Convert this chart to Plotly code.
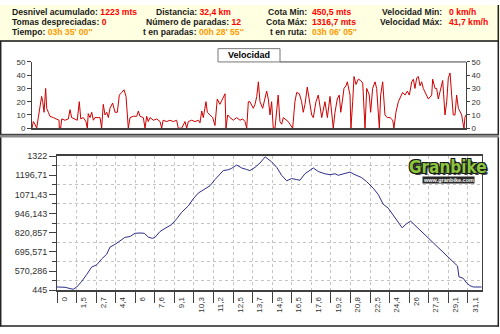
import plotly.graph_objects as go

# ---------------- data ----------------
# header statistics (label, value, colour-kind)
col1_labels = ["Desnivel acumulado:", "Tomas despreciadas:", "Tiempo:"]
col1_values = ["1223 mts", "0", "03h 35' 00''"]
col2_labels = ["Distancia:", "Número de paradas:", "t en paradas:"]
col2_values = ["32,4 km", "12", "00h 28' 55''"]
col3_labels = ["Cota Min:", "Cota Máx:", "t en ruta:"]
col3_values = ["450,5 mts", "1316,7 mts", "03h 06' 05''"]
col4_labels = ["Velocidad Min:", "Velocidad Máx:"]
col4_values = ["0 km/h", "41,7 km/h"]
time_rows = [2]  # rows whose values are times (orange)

# speed profile (km, km/h)
vel_km = [0.00, 0.10, 0.22, 0.35, 0.47, 0.60, 0.72, 0.80, 0.90, 1.02, 1.10, 1.22, 1.34, 1.59, 1.84,
          2.02, 2.04, 2.14, 2.22, 2.46, 2.71, 2.84, 2.96, 3.21, 3.38, 3.53, 3.64, 3.83, 4.03, 4.13,
          4.20, 4.33, 4.46, 4.58, 4.70, 4.95, 5.08, 5.20, 5.32, 5.45, 5.58, 5.70, 5.82, 6.02, 6.20,
          6.37, 6.52, 6.70, 6.87, 7.02, 7.19, 7.32, 7.56, 7.82, 7.94, 8.06, 8.31, 8.44, 8.56, 8.68,
          8.81, 9.06, 9.31, 9.56, 9.68, 9.79, 10.06, 10.30, 10.55, 10.80, 10.92, 11.18, 11.42, 11.55,
          11.67, 11.92, 12.17, 12.43, 12.54, 12.67, 12.79, 12.99, 13.09, 13.29, 13.49, 13.66, 13.83,
          14.03, 14.24, 14.41, 14.48, 14.61, 14.78, 15.03, 15.28, 15.53, 15.73, 15.90, 16.03, 16.15,
          16.27, 16.52, 16.65, 16.78, 16.90, 17.02, 17.22, 17.39, 17.52, 17.64, 17.77, 17.89, 18.01,
          18.14, 18.27, 18.38, 18.51, 18.64, 18.76, 19.01, 19.13, 19.26, 19.46, 19.63, 19.76, 19.96,
          20.13, 20.25, 20.38, 20.55, 20.70, 20.88, 21.00, 21.20, 21.37, 21.50, 21.63, 21.87, 22.05,
          22.25, 22.37, 22.49, 22.62, 22.79, 22.94, 23.05, 23.19, 23.29, 23.44, 23.54, 23.74, 23.81,
          23.94, 24.04, 24.19, 24.36, 24.54, 24.69, 24.86, 24.99, 25.18, 25.28, 25.43, 25.61, 25.73,
          25.93, 26.03, 26.18, 26.35, 26.52, 26.73, 26.93, 27.02, 27.17, 27.35, 27.47, 27.67, 27.85,
          28.02, 28.17, 28.35, 28.47, 28.59, 28.72, 28.84, 28.97, 29.09, 29.21, 29.41, 29.59, 29.84,
          29.91, 30.09, 30.21, 30.33, 30.51, 30.66, 30.83, 30.96, 31.08, 31.21, 31.33, 31.45, 31.58,
          31.70, 31.83, 31.95, 32.08, 32.15, 32.25, 32.32, 32.40]
vel_kmh = [0, 5, 3, 0, 8, 15, 24, 20, 12, 30, 15, 12, 9, 8, 7,
           6, 0, 0, 7, 6, 7, 14, 8, 7, 6, 20, 7, 8, 5, 0,
           11, 8, 12, 6, 8, 8, 8, 0, 18, 10, 12, 8, 15, 19, 12,
           12, 25, 27, 29, 24, 0, 8, 9, 9, 13, 9, 8, 0, 9, 5,
           8, 6, 7, 5, 0, 6, 5, 6, 5, 6, 0, 0, 5, 0,
           5, 6, 5, 6, 4, 13, 8, 20, 12, 10, 8, 2, 22,
           18, 22, 26, 0, 10, 8, 6, 8, 6, 7, 5, 0, 20,
           20, 15, 18, 24, 35, 20, 15, 22, 28, 22, 10, 20, 0,
           0, 15, 25, 5, 3, 8, 6, 5, 3, 0, 20, 27, 26,
           20, 12, 18, 31, 22, 10, 8, 20, 25, 18, 8, 20, 8,
           24, 12, 0, 12, 22, 25, 12, 22, 30, 32, 35, 25, 0,
           20, 39, 33, 37, 36, 34, 0, 30, 25, 12, 30, 35, 30,
           0, 25, 35, 10, 8, 8, 6, 0, 12, 20, 23, 27, 25,
           28, 25, 35, 37, 30, 38, 39, 32, 35, 30, 25, 22, 25,
           37, 30, 30, 22, 30, 36, 10, 20, 38, 41.7, 25, 10, 10,
           25, 15, 12, 10, 5, 0, 8, 10]

# altitude profile (sample position in tick units, metres)
elev_pos = [0, 0.41, 0.66, 0.83, 1.01, 1.26, 1.52, 1.77, 2.03, 2.28, 2.54, 2.71, 2.96, 3.22, 3.47,
            3.73, 3.99, 4.24, 4.46, 4.67, 4.87, 5.01, 5.26, 5.52, 5.86, 6.12, 6.37, 6.71, 6.96, 7.22,
            7.56, 7.82, 8.07, 8.33, 8.50, 8.75, 8.93, 9.18, 9.44, 9.69, 9.86, 10.12, 10.37, 10.64,
            10.97, 11.23, 11.48, 11.74, 11.99, 12.25, 12.42, 12.67, 12.93, 13.10, 13.35, 13.69, 13.95,
            14.21, 14.37, 14.63, 14.97, 15.23, 15.57, 15.83, 16.16, 16.42, 16.67, 16.93, 17.18, 17.44,
            17.64, 17.87, 18.07, 18.29, 18.55, 18.80, 19.15, 19.48, 19.83, 20.17, 20.47, 20.54, 20.76,
            20.94, 21.10, 21.27, 21.70]
elev_m = [466, 464, 456, 451, 466, 502, 548, 596, 611, 649, 680, 727, 744, 765, 790,
          796, 817, 819, 817, 792, 784, 790, 828, 849, 874, 912, 954, 996, 1042, 1080,
          1105, 1128, 1168, 1206, 1227, 1232, 1242, 1263, 1244, 1234, 1227, 1248, 1276, 1316.7,
          1284, 1248, 1196, 1160, 1175, 1168, 1164, 1206, 1227, 1244, 1221, 1206, 1200,
          1206, 1196, 1206, 1217, 1200, 1181, 1154, 1112, 1070, 1007, 981, 937, 891,
          853, 880, 897, 870, 838, 807, 765, 723, 680, 639, 603, 533, 523,
          491, 475, 466, 466]

dist_labels = ["0", "1,5", "2,7", "4,4", "6", "7,6", "9,1", "10,3", "11,2", "12,5", "13,7",
               "14,9", "16,5", "17,6", "19,2", "20,8", "22,5", "24,4", "26", "27,3", "29,1", "31,1"]
elev_tick_vals = [445, 570.286, 695.571, 820.857, 946.143, 1071.43, 1196.71, 1322]
elev_tick_text = ["445", "570,286", "695,571", "820,857", "946,143", "1071,43", "1196,71", "1322"]
speed_ticks = [0, 10, 20, 30, 40, 50]

# ---------------- figure ----------------
W, H = 500, 334


def py(p):
    return 1 - p / H


def px(p):
    return p / W


RED = "#FF0000"
ORANGE = "#FF9900"
LAB = "#1a1a1a"
AX = "#404040"
GRID = "#c4c4c4"

fig = go.Figure()

fig.add_trace(go.Scatter(x=vel_km, y=vel_kmh, mode="lines",
                         line=dict(color="#CC0000", width=1), xaxis="x", yaxis="y",
                         hoverinfo="skip"))
fig.add_trace(go.Scatter(x=[None], y=[None], mode="lines", xaxis="x", yaxis="y2",
                         hoverinfo="skip"))
fig.add_trace(go.Scatter(x=elev_pos, y=elev_m, mode="lines",
                         line=dict(color="#2e2e8a", width=1), xaxis="x2", yaxis="y3",
                         hoverinfo="skip"))

mids = [(elev_tick_vals[i] + elev_tick_vals[i + 1]) / 2 for i in range(len(elev_tick_vals) - 1)]

fig.update_layout(
    width=W, height=H, margin=dict(l=0, r=0, t=0, b=0),
    paper_bgcolor="white", plot_bgcolor="white", showlegend=False,
    font=dict(family="Liberation Sans, Arial, sans-serif", color="#333333", size=8),
    xaxis=dict(domain=[px(32), px(466)], range=[0, 32.4], anchor="y",
               showticklabels=False, ticks="", showgrid=False, zeroline=False,
               showline=True, linecolor=AX, linewidth=2),
    yaxis=dict(domain=[py(127), py(58.7)], range=[0, 50], anchor="x",
               tickvals=speed_ticks, ticks="outside", ticklen=4, tickcolor=AX,
               showline=True, linecolor=AX, linewidth=1, showgrid=False, zeroline=False,
               tickfont=dict(size=8, color="#333")),
    yaxis2=dict(overlaying="y", side="right", anchor="x", range=[0, 50],
                tickvals=speed_ticks, ticks="outside", ticklen=3, tickcolor=AX,
                showline=True, linecolor=AX, linewidth=1, showgrid=False, zeroline=False,
                tickfont=dict(size=8, color="#333")),
    xaxis2=dict(domain=[px(57), px(482)], range=[0, 21.72], anchor="y3",
                tickmode="array", tickvals=list(range(len(dist_labels))), ticktext=dist_labels,
                tickangle=-90, ticks="outside", ticklen=11, tickcolor=AX,
                ticklabelshift=7, ticklabelstandoff=-9,
                showgrid=True, gridcolor=GRID, griddash="dot", gridwidth=1,
                zeroline=False, showline=True, mirror=True, linecolor=AX, linewidth=1.5,
                tickfont=dict(size=8, color="#333")),
    yaxis3=dict(domain=[py(294), py(155.7)], range=[445, 1322], anchor="x2",
                tickmode="array", tickvals=elev_tick_vals, ticktext=elev_tick_text,
                ticks="outside", ticklen=7, tickcolor=AX, showgrid=False, zeroline=False,
                showline=True, mirror=True, linecolor=AX, linewidth=1,
                minor=dict(tickvals=mids, ticks="outside", ticklen=4, tickcolor=AX,
                           showgrid=True, gridcolor=GRID, griddash="dot", gridwidth=1),
                tickfont=dict(size=9, color="#333")),
)

shapes = []
# header background
shapes.append(dict(type="rect", xref="paper", yref="paper", x0=0, x1=1, y0=py(37), y1=1,
                   fillcolor="#FFFFE1", line=dict(width=0), layer="below"))
shapes.append(dict(type="line", xref="paper", yref="paper", x0=0, x1=px(499), y0=py(37), y1=py(37),
                   line=dict(color="#111", width=1.5)))
# frame
shapes.append(dict(type="line", xref="paper", yref="paper", x0=px(0.7), x1=px(0.7), y0=py(331.5), y1=py(37),
                   line=dict(color="#222", width=1.5)))
shapes.append(dict(type="line", xref="paper", yref="paper", x0=px(498.3), x1=px(498.3), y0=py(331.5), y1=1,
                   line=dict(color="#222", width=1.5)))
shapes.append(dict(type="line", xref="paper", yref="paper", x0=0, x1=px(499), y0=py(331), y1=py(331),
                   line=dict(color="#222", width=1.5)))
# separator between panels
shapes.append(dict(type="rect", xref="paper", yref="paper", x0=0, x1=px(499), y0=py(136.5), y1=py(133),
                   fillcolor="#8a8a8a", line=dict(width=0)))
shapes.append(dict(type="line", xref="paper", yref="paper", x0=0, x1=px(499), y0=py(133.3), y1=py(133.3),
                   line=dict(color="#333", width=1)))
# legend tab "Velocidad" and top line of the speed plot
shapes.append(dict(type="line", xref="paper", yref="paper", x0=px(280), x1=px(466), y0=py(58.7), y1=py(58.7),
                   line=dict(color=AX, width=1)))
shapes.append(dict(type="rect", xref="paper", yref="paper", x0=px(218), x1=px(280), y0=py(58.7), y1=py(45),
                   fillcolor="white", line=dict(color="#777", width=1)))
fig.update_layout(shapes=shapes)

ann = []


def hdr(text, x, y, anchor):
    ann.append(dict(text=text, x=px(x), y=py(y), xref="paper", yref="paper", xanchor=anchor,
                    yanchor="middle", showarrow=False,
                    font=dict(family="Liberation Sans, Arial, sans-serif", size=8.6, color=LAB)))


row_y = [7, 17.6, 27.6]
for i, (l, v) in enumerate(zip(col1_labels, col1_values)):
    c = ORANGE if i in time_rows else RED
    hdr(f"<b>{l} <span style='color:{c}'>{v}</span></b>", 10, row_y[i], "left")
for i, (l, v) in enumerate(zip(col2_labels, col2_values)):
    c = ORANGE if i in time_rows else RED
    hdr(f"<b>{l} <span style='color:{c}'>{v}</span></b>", 193, row_y[i], "center")
for i, (l, v) in enumerate(zip(col3_labels, col3_values)):
    c = ORANGE if i in time_rows else RED
    hdr(f"<b>{l}</b>", 308.5, row_y[i], "right")
    hdr(f"<b><span style='color:{c}'>{v}</span></b>", 310, row_y[i], "left")
for i, (l, v) in enumerate(zip(col4_labels, col4_values)):
    hdr(f"<b>{l}</b>", 444, row_y[i], "right")
    hdr(f"<b><span style='color:{RED}'>{v}</span></b>", 446.5, row_y[i], "left")

ann.append(dict(text="<b>Velocidad</b>", x=px(249), y=py(52), xref="paper", yref="paper",
                xanchor="center", yanchor="middle", showarrow=False,
                font=dict(family="Liberation Sans, Arial, sans-serif", size=9, color="#000")))

# Granbike logo
ann.append(dict(text="<b>Granbike</b>", x=px(447.5), y=py(167), xref="paper", yref="paper",
                xanchor="center", yanchor="middle", showarrow=False,
                font=dict(family="Liberation Sans Narrow, DejaVu Sans Condensed, Liberation Sans, sans-serif",
                          size=17, color="#8CC63F",
                          shadow="1px 1px 0 #1a1a1a, -1px -1px 0 #1a1a1a, 1px -1px 0 #1a1a1a, -1px 1px 0 #1a1a1a, 2px 2px 0 #444")))
ann.append(dict(text="<b>www.granbike.com</b>", x=px(448), y=py(180), xref="paper", yref="paper",
                xanchor="center", yanchor="middle", showarrow=False, bgcolor="#2a2a2a", borderpad=0,
                font=dict(family="Liberation Sans, sans-serif", size=5.5, color="white")))
fig.update_layout(annotations=ann)

fig.write_html("out.html")
